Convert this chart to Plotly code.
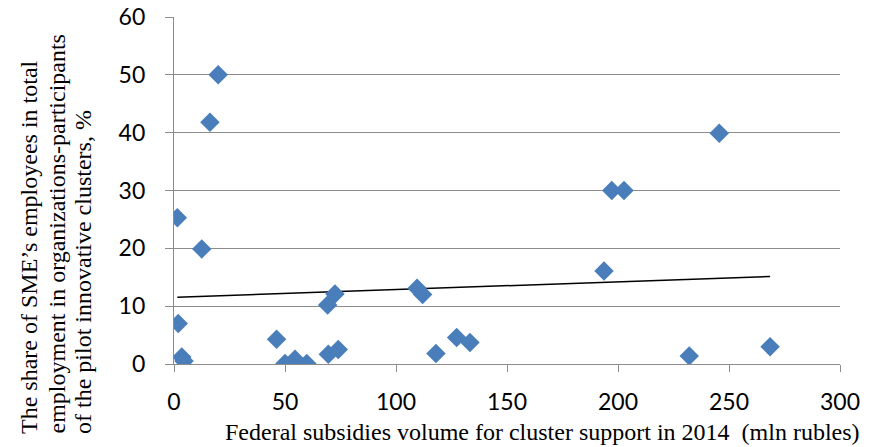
import numpy as np
import plotly.graph_objects as go

# Federal subsidies volume (mln rubles) and SME employment share (%) per cluster
subsidies = [19.9, 16.2, 1.5, 12.5, 1.9, 3.5, 4.5, 46.2, 50.0, 54.5, 59.8, 69.2, 72.5,
             69.5, 74.0, 109.5, 112.0, 118.0, 127.3, 133.3, 193.7, 197.2, 202.7,
             245.6, 232.1, 268.5]
sme_share = [50.0, 41.8, 25.3, 19.9, 7.0, 1.2, 0.5, 4.3, 0.1, 0.8, 0.1, 10.2, 12.1,
             1.7, 2.5, 13.1, 12.0, 1.8, 4.6, 3.7, 16.1, 30.0, 30.0,
             39.9, 1.4, 3.0]

x_ticks = [0, 50, 100, 150, 200, 250, 300]
y_ticks = [0, 10, 20, 30, 40, 50, 60]

x_title = "Federal subsidies volume for cluster support in 2014\u00a0 (mln rubles)"
y_title_lines = ["The share of SME\u2019s employees in total",
                 "employment in organizations-participants",
                 "of the pilot innovative clusters, %"]

# Linear trend fitted to the data, drawn across the observed x range
slope, intercept = np.polyfit(subsidies, sme_share, 1)
trend_x = [min(subsidies), max(subsidies)]
trend_y = [slope * v + intercept for v in trend_x]

W, H = 878, 447
L, R, T, B = 174, 38, 17, 83
plot_w = W - L - R
plot_h = H - T - B


def px_x(px):
    return (px - L) / plot_w


def px_y(py):
    return (H - B - py) / plot_h


fig = go.Figure()
fig.add_trace(go.Scatter(
    x=trend_x, y=trend_y, mode="lines",
    line=dict(color="black", width=1.5), hoverinfo="skip", showlegend=False))
fig.add_trace(go.Scatter(
    x=subsidies, y=sme_share, mode="markers",
    marker=dict(symbol="diamond", size=15, color="#4a7ebb",
                line=dict(width=0)),
    showlegend=False))

grid = "#8c8c8c"
tick_font = dict(family="Lato, 'Open Sans', sans-serif", size=23, color="#000000")

fig.update_xaxes(
    range=[0, 300], tickvals=x_ticks, ticktext=[str(v) for v in x_ticks],
    showgrid=False, zeroline=False, showline=True, linecolor=grid, linewidth=1.3,
    ticks="outside", ticklen=7, tickcolor=grid, tickwidth=1.3,
    tickfont=tick_font, ticklabelstandoff=10, automargin=False)
fig.update_yaxes(
    range=[0, 60], tickvals=y_ticks, ticktext=[str(v) for v in y_ticks],
    showgrid=True, gridcolor=grid, gridwidth=1.3, zeroline=False,
    showline=True, linecolor=grid, linewidth=1.3,
    ticks="outside", ticklen=8, tickcolor=grid, tickwidth=1.3,
    tickfont=tick_font, ticklabelstandoff=15, automargin=False)

title_font = dict(family="'Liberation Serif', 'Times New Roman', serif", size=24, color="#000000")

fig.add_annotation(
    text=x_title, xref="paper", yref="paper",
    x=px_x(862), y=px_y(432),
    xanchor="right", yanchor="middle", showarrow=False, font=title_font)

# Vertical axis title: three rotated lines sharing a common starting edge
for line_text, cx in zip(y_title_lines, [29, 56, 83]):
    fig.add_annotation(
        text=line_text, xref="paper", yref="paper",
        x=px_x(cx), y=px_y(436),
        xanchor="center", yanchor="bottom", textangle=-90,
        showarrow=False, font=title_font)

fig.update_layout(
    width=W, height=H, margin=dict(l=L, r=R, t=T, b=B),
    paper_bgcolor="white", plot_bgcolor="white", showlegend=False)

fig.write_html("out.html")
